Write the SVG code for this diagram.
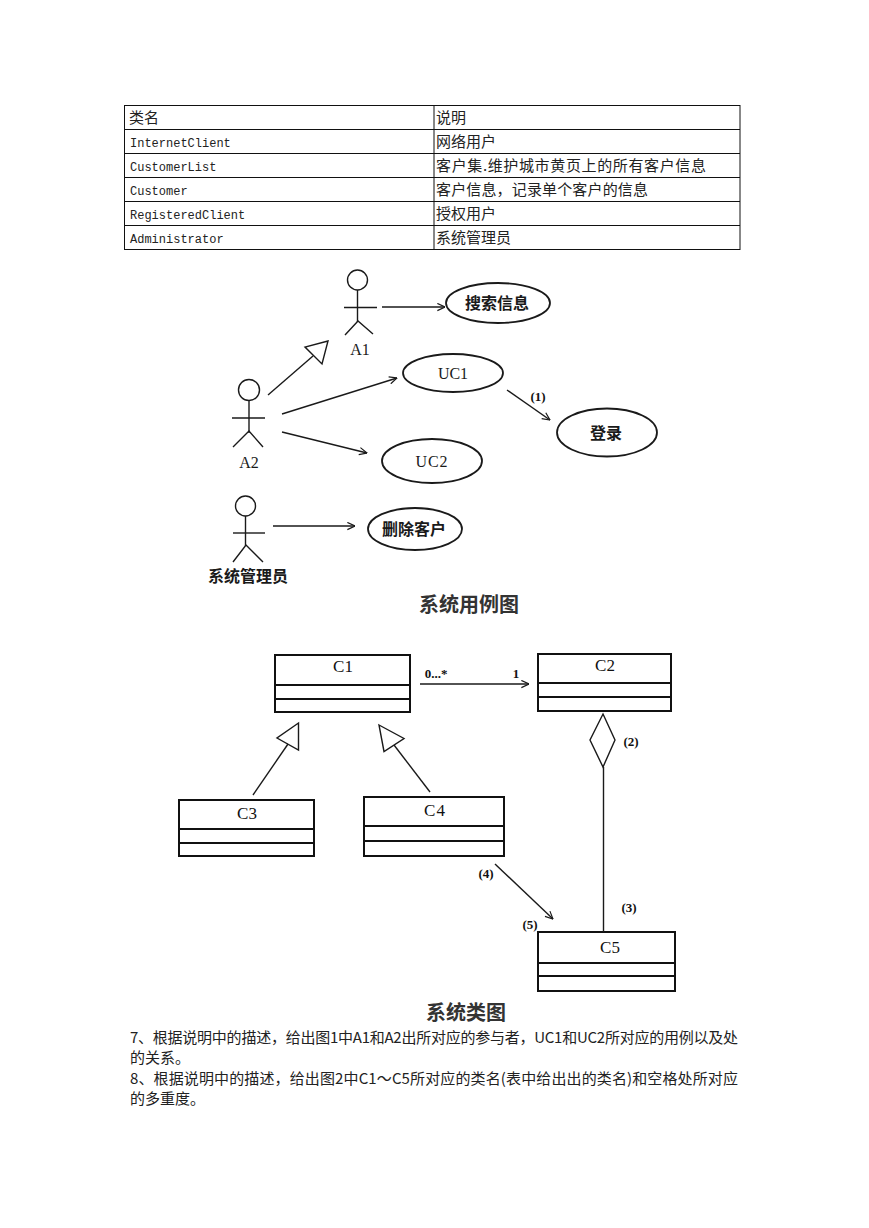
<svg xmlns="http://www.w3.org/2000/svg" width="869" height="1228" viewBox="0 0 869 1228">
<style>
.tbl{fill:none;stroke:#111;stroke-width:1}
.mono{font-family:"Liberation Mono","DejaVu Sans Mono",monospace;font-size:12px;fill:#222}
.cjk{font-family:"Noto Sans CJK SC","Noto Sans CJK JP",sans-serif;font-size:15px;fill:#222}
.ucl{fill:none;stroke:#1a1a1a;stroke-width:1.4}
.ell{fill:#fff;stroke:#1a1a1a;stroke-width:1.8}
.lbl{font-family:"Liberation Serif","Times New Roman",serif;font-size:16px;fill:#1a1a1a;text-anchor:middle}
.cjkb{font-family:"Noto Sans CJK SC",sans-serif;font-size:16px;font-weight:bold;fill:#1a1a1a;text-anchor:middle}
.cls{fill:#fff;stroke:#111;stroke-width:2}
.div{stroke:#111;stroke-width:2}
.cn{font-family:"Liberation Serif","Times New Roman",serif;font-size:17px;fill:#111;text-anchor:middle}
.mul{font-family:"Liberation Serif","Times New Roman",serif;font-size:13px;font-weight:bold;fill:#111;text-anchor:middle}
.title{font-family:"Noto Sans CJK SC",sans-serif;font-weight:bold;fill:#333;text-anchor:middle}
.q{font-family:"Noto Sans CJK SC",sans-serif;font-size:15px;fill:#222}
</style>
<defs>
<marker id="open" viewBox="0 0 10 10" refX="9.5" refY="5" markerWidth="9" markerHeight="9" markerUnits="userSpaceOnUse" orient="auto">
<path d="M1,1 L9.5,5 L1,9" fill="none" stroke="#1a1a1a" stroke-width="1.3"/>
</marker>
</defs>
<rect width="869" height="1228" fill="#fff"/>

<g id="table">
<rect class="tbl" x="124.5" y="105.5" width="615.5" height="144"/>
<line class="tbl" x1="434" y1="105" x2="434" y2="249.5"/>
<line class="tbl" x1="124" y1="129.5" x2="740" y2="129.5"/>
<line class="tbl" x1="124" y1="153.5" x2="740" y2="153.5"/>
<line class="tbl" x1="124" y1="177.5" x2="740" y2="177.5"/>
<line class="tbl" x1="124" y1="201.5" x2="740" y2="201.5"/>
<line class="tbl" x1="124" y1="225.5" x2="740" y2="225.5"/>
<text class="cjk" x="129" y="123">类名</text>
<text class="cjk" x="436" y="123">说明</text>
<text class="mono" x="130" y="147">InternetClient</text>
<text class="cjk" x="436" y="147">网络用户</text>
<text class="mono" x="130" y="171">CustomerList</text>
<text class="cjk" x="436" y="171" textLength="270" lengthAdjust="spacing">客户集.维护城市黄页上的所有客户信息</text>
<text class="mono" x="130" y="195">Customer</text>
<text class="cjk" x="436" y="195" textLength="212" lengthAdjust="spacing">客户信息，记录单个客户的信息</text>
<text class="mono" x="130" y="219">RegisteredClient</text>
<text class="cjk" x="436" y="219">授权用户</text>
<text class="mono" x="130" y="243">Administrator</text>
<text class="cjk" x="436" y="243">系统管理员</text>
</g>

<g id="actor-A1">
<circle class="ucl" cx="357.5" cy="280" r="10"/>
<line class="ucl" x1="357.5" y1="290" x2="357.5" y2="322"/>
<line class="ucl" x1="344" y1="307.5" x2="377" y2="307.5" stroke-width="2"/>
<polyline class="ucl" points="345,335 358,321 373,334"/>
<text class="lbl" x="360" y="355">A1</text>
</g>
<g id="actor-A2">
<circle class="ucl" cx="249" cy="390" r="10.5"/>
<line class="ucl" x1="249" y1="400.5" x2="249" y2="433"/>
<line class="ucl" x1="232" y1="418" x2="265" y2="418" stroke-width="2"/>
<polyline class="ucl" points="233,447 249,431 263,447"/>
<text class="lbl" x="249" y="468">A2</text>
</g>
<g id="actor-admin">
<circle class="ucl" cx="245.5" cy="506" r="10"/>
<line class="ucl" x1="245.5" y1="516" x2="245.5" y2="546"/>
<line class="ucl" x1="233" y1="533" x2="265" y2="533" stroke-width="2"/>
<polyline class="ucl" points="233,562 246,545 263,562"/>
<text class="cjkb" x="248" y="582">系统管理员</text>
</g>
<g id="uc-search">
<ellipse class="ell" cx="498" cy="303" rx="52" ry="20"/>
<text class="cjkb" x="497" y="309">搜索信息</text>
</g>
<g id="uc-UC1">
<ellipse class="ell" cx="453" cy="373" rx="50" ry="19"/>
<text class="lbl" x="453" y="379">UC1</text>
</g>
<g id="uc-login">
<ellipse class="ell" cx="607" cy="432.5" rx="50" ry="24"/>
<text class="cjkb" x="606" y="439">登录</text>
</g>
<g id="uc-UC2">
<ellipse class="ell" cx="432" cy="461" rx="50" ry="22"/>
<text class="lbl" x="432" y="467" letter-spacing="1">UC2</text>
</g>
<g id="uc-delete">
<ellipse class="ell" cx="415" cy="529" rx="47" ry="21"/>
<text class="cjkb" x="414" y="535">删除客户</text>
</g>
<text class="title" x="469" y="612" font-size="20">系统用例图</text>

<g id="class-C1">
<rect class="cls" x="275" y="655" width="135" height="57"/>
<line class="div" x1="275" y1="685" x2="410" y2="685"/>
<line class="div" x1="275" y1="699" x2="410" y2="699"/>
<text class="cn" x="343" y="672">C1</text>
</g>
<g id="class-C2">
<rect class="cls" x="538" y="654" width="133" height="57"/>
<line class="div" x1="538" y1="683" x2="671" y2="683"/>
<line class="div" x1="538" y1="697" x2="671" y2="697"/>
<text class="cn" x="605" y="671">C2</text>
</g>
<g id="class-C3">
<rect class="cls" x="179" y="800" width="135" height="56"/>
<line class="div" x1="179" y1="829" x2="314" y2="829"/>
<line class="div" x1="179" y1="843" x2="314" y2="843"/>
<text class="cn" x="247" y="819">C3</text>
</g>
<g id="class-C4">
<rect class="cls" x="364" y="797" width="140" height="59"/>
<line class="div" x1="364" y1="826" x2="504" y2="826"/>
<line class="div" x1="364" y1="841" x2="504" y2="841"/>
<text class="cn" x="435" y="816" letter-spacing="1">C4</text>
</g>
<g id="class-C5">
<rect class="cls" x="538" y="932" width="137" height="59"/>
<line class="div" x1="538" y1="963" x2="675" y2="963"/>
<line class="div" x1="538" y1="976" x2="675" y2="976"/>
<text class="cn" x="610" y="953">C5</text>
</g>
<text class="title" x="466" y="1020" font-size="20">系统类图</text>

<g id="connectors">
<line class="ucl" x1="382" y1="307" x2="445" y2="307" marker-end="url(#open)"/>
<line class="ucl" x1="268" y1="395" x2="313" y2="356"/>
<polygon class="ucl" points="328,341 305,347 322,364" fill="#fff"/>
<line class="ucl" x1="282" y1="414" x2="397" y2="378" marker-end="url(#open)"/>
<line class="ucl" x1="507" y1="390" x2="550" y2="420" marker-end="url(#open)"/>
<text class="mul" x="538" y="401" font-weight="normal" font-size="14">(1)</text>
<line class="ucl" x1="282" y1="432" x2="367" y2="453" marker-end="url(#open)"/>
<line class="ucl" x1="273" y1="526" x2="355" y2="526" marker-end="url(#open)"/>

<line class="ucl" x1="420" y1="684" x2="529" y2="684" marker-end="url(#open)"/>
<text class="mul" x="436" y="678">0...*</text>
<text class="mul" x="516" y="678">1</text>
<line class="ucl" x1="253" y1="795" x2="288" y2="744"/>
<polygon class="ucl" points="298.5,723 277,738 298.5,750" fill="#fff"/>
<line class="ucl" x1="430" y1="792" x2="394" y2="745"/>
<polygon class="ucl" points="379,725 404,738.5 384,751.5" fill="#fff"/>
<polygon class="ucl" points="603,714 615,740 603,767 590,740" fill="#fff"/>
<text class="mul" x="631" y="746">(2)</text>
<line class="ucl" x1="603.5" y1="767" x2="603.5" y2="932"/>
<text class="mul" x="629" y="912">(3)</text>
<line class="ucl" x1="495" y1="864" x2="553" y2="919" marker-end="url(#open)"/>
<text class="mul" x="486" y="878">(4)</text>
<text class="mul" x="530" y="929">(5)</text>
</g>

<g id="questions">
<text class="q" x="130" y="1043" textLength="608" lengthAdjust="spacing">7、根据说明中的描述，给出图1中A1和A2出所对应的参与者，UC1和UC2所对应的用例以及处</text>
<text class="q" x="130" y="1063">的关系。</text>
<text class="q" x="130" y="1084" textLength="608" lengthAdjust="spacing">8、根据说明中的描述，给出图2中C1～C5所对应的类名(表中给出出的类名)和空格处所对应</text>
<text class="q" x="130" y="1104">的多重度。</text>
</g>
</svg>
